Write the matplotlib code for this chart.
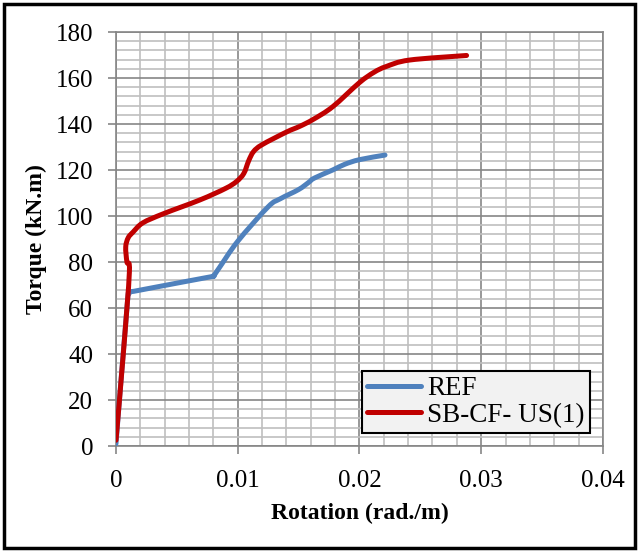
import numpy as np
import matplotlib.pyplot as plt
from matplotlib.patches import Rectangle, PathPatch
from matplotlib.path import Path
from matplotlib.lines import Line2D

plt.rcParams['font.family'] = ['Liberation Serif', 'DejaVu Serif']

# REF
ref_rot = [0.0, 0.0009, 0.0011, 0.0018, 0.0075, 0.008, 0.0085, 0.010, 0.0125,
           0.0135, 0.015, 0.0158, 0.0163, 0.0178, 0.0188, 0.020, 0.0221]
ref_torque = [1.0, 60.0, 66.5, 67.6, 73.3, 74.0, 77.6, 89.0, 104.0,
              107.5, 111.5, 114.5, 116.5, 120.0, 122.5, 124.5, 126.5]

# SB-CF- US(1)
sb_rot = [0.0, 0.0006, 0.0011, 0.0009, 0.0008, 0.0010, 0.0014, 0.0022, 0.0039,
          0.0069, 0.0090, 0.0099, 0.0105, 0.0109, 0.0113, 0.0120, 0.0140,
          0.0151, 0.0162, 0.0178, 0.0200, 0.0212, 0.0222, 0.0241, 0.0288]
sb_torque = [2.5, 40.0, 75.5, 80.0, 86.5, 90.5, 93.0, 97.0, 101.0,
             107.0, 112.0, 115.0, 118.5, 124.0, 128.0, 131.0, 136.5,
             139.0, 142.0, 147.5, 158.0, 162.5, 165.0, 167.8, 169.8]


def smooth_path(xs, ys):
    # excel-like smoothed line: cubic bezier through every point
    p = np.column_stack([xs, ys])
    n = len(p)
    verts = [p[0]]
    codes = [Path.MOVETO]
    for i in range(n - 1):
        p0 = p[i - 1] if i > 0 else p[i]
        p3 = p[i + 2] if i + 2 < n else p[i + 1]
        c1 = p[i] + (p[i + 1] - p0) / 6
        c2 = p[i + 1] - (p3 - p[i]) / 6
        verts += [c1, c2, p[i + 1]]
        codes += [Path.CURVE4] * 3
    return Path(verts, codes)


fig = plt.figure(figsize=(6.39, 5.52), dpi=100)
ax = fig.add_axes([0.1815, 0.192, 0.762, 0.75])

series = [(ref_rot, ref_torque, '#4F81BD', 'REF', 3),
          (sb_rot, sb_torque, '#C00000', 'SB-CF- US(1)', 4)]
handles = []
for xs, ys, c, lab, z in series:
    ax.add_patch(PathPatch(smooth_path(xs, ys), fill=False, edgecolor=c,
                           lw=3.6, capstyle='round', joinstyle='round', zorder=z))
    handles.append(Line2D([], [], color=c, lw=3.6, solid_capstyle='round', label=lab))

ax.set_xlim(0, 0.04)
ax.set_ylim(0, 180)
ax.set_xticks([0, 0.01, 0.02, 0.03, 0.04])
ax.set_xticklabels(['0', '0.01', '0.02', '0.03', '0.04'])
ax.set_yticks(np.arange(0, 181, 20))
ax.set_xticks(np.arange(0, 0.0401, 0.002), minor=True)
ax.set_yticks(np.arange(0, 181, 4), minor=True)
ax.grid(which='major', color='#868686', lw=1.2, zorder=1)
ax.grid(which='minor', color='#BFBFBF', lw=1.2, zorder=0)
ax.set_axisbelow(True)
ax.tick_params(which='major', direction='out', length=6, width=1.2,
               color='#868686', labelsize=18)
ax.tick_params(axis='y', pad=10.5)
ax.tick_params(axis='x', pad=11)
ax.tick_params(which='minor', length=0)
for s in ax.spines.values():
    s.set_color('#868686')
    s.set_linewidth(1.2)

ax.set_xlabel('Rotation (rad./m)', fontsize=17, fontweight='bold', labelpad=8)
ax.set_ylabel('Torque (kN.m)', fontsize=17, fontweight='bold', labelpad=6)

leg = ax.legend(handles=handles, loc='lower right', bbox_to_anchor=(0.973, 0.031),
                fontsize=19.5, frameon=True, fancybox=False, handlelength=2.0,
                handletextpad=0.2, borderpad=0.2, labelspacing=0.05,
                borderaxespad=0)
leg.get_frame().set_facecolor('#F2F2F2')
leg.get_frame().set_edgecolor('black')
leg.get_frame().set_linewidth(1.5)
leg.get_frame().set_alpha(1)

fig.patches.append(Rectangle((0.006, 0.008), 0.988, 0.984, transform=fig.transFigure,
                             fill=False, edgecolor='black', lw=2.5))

fig.savefig('out.png', dpi=100)
